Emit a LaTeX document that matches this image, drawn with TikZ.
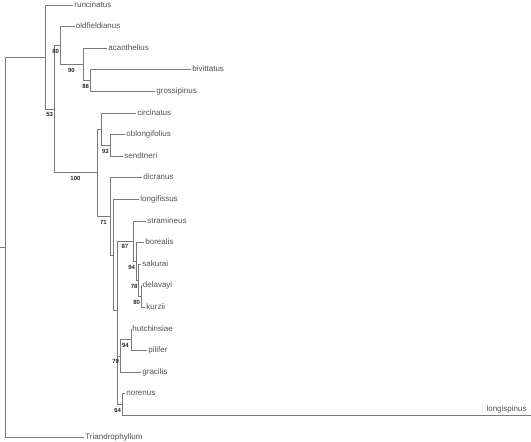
\documentclass[tikz,border=0pt]{standalone}
\usepackage{fontspec}
\setmainfont{Liberation Sans}
\usepackage{tikz}
\usepackage{xcolor}

\definecolor{branchgray}{HTML}{7A7A7A}
\definecolor{labelgray}{HTML}{505050}

\begin{document}
\begin{tikzpicture}[
    x=1pt, y=-1pt,
    branch/.style={draw=branchgray, line width=0.9pt},
    leaf/.style={anchor=west, inner sep=1.2pt, text height=5.8pt, text depth=1.6pt, text=labelgray, font=\fontsize{8}{9}\selectfont},
    boot/.style={inner sep=0.6pt, text=black!85, font=\bfseries\fontsize{6}{6}\selectfont}
]
    \useasboundingbox (0,0) rectangle (531,442);

    % internal nodes
    \coordinate (stub) at (0,247);
    \coordinate (root) at (5,247);
    \coordinate (ingroup) at (45,57.1);
    \coordinate (n53) at (54,109.2);
    \coordinate (n80a) at (60,45.5);
    \coordinate (n90) at (83,64.4);
    \coordinate (n88) at (90,80.6);
    \coordinate (n100) at (97,172.8);
    \coordinate (ncirc) at (101,129.2);
    \coordinate (n93) at (110,145.4);
    \coordinate (n71) at (110,216.4);
    \coordinate (nlongi) at (113,255.1);
    \coordinate (nrest) at (117,310.8);
    \coordinate (n87) at (133,241.25);
    \coordinate (n94a) at (136,261.5);
    \coordinate (n78) at (138.5,280.4);
    \coordinate (n80b) at (141,296.6);
    \coordinate (ngrac) at (117.8,380.3);
    \coordinate (n79) at (120,356);
    \coordinate (n94b) at (131,339.8);
    \coordinate (n64) at (122,404.6);
    \coordinate (longispinusEnd) at (531,415.4);

    % taxa
    \node[leaf] (runcinatus) at (73,5) {runcinatus};
    \node[leaf] (oldfieldianus) at (74.5,26.6) {oldfieldianus};
    \node[leaf] (acanthelius) at (107,48.2) {acanthelius};
    \node[leaf] (bivittatus) at (191,69.8) {bivittatus};
    \node[leaf] (grossipinus) at (155,91.4) {grossipinus};
    \node[leaf] (circinatus) at (136,113) {circinatus};
    \node[leaf] (oblongifolius) at (125,134.6) {oblongifolius};
    \node[leaf] (sendtneri) at (123,156.2) {sendtneri};
    \node[leaf] (dicranus) at (142,177.8) {dicranus};
    \node[leaf] (longifissus) at (139,199.4) {longifissus};
    \node[leaf] (stramineus) at (146,221) {stramineus};
    \node[leaf] (borealis) at (144,242.6) {borealis};
    \node[leaf] (sakurai) at (141,264.2) {sakurai};
    \node[leaf] (delavayi) at (141.5,285.8) {delavayi};
    \node[leaf] (kurzii) at (145,307.4) {kurzii};
    \node[leaf] (hutchinsiae) at (131,329) {hutchinsiae};
    \node[leaf] (pilifer) at (147,350.6) {pilifer};
    \node[leaf] (gracilis) at (141,372.2) {gracilis};
    \node[leaf] (norenus) at (125,393.8) {norenus};
    \node[leaf, anchor=south east] (longispinus) at (528,414) {longispinus};
    \node[leaf] (Triandrophyllum) at (84,437) {Triandrophyllum};

    % branches
    \draw[branch] (stub) -- (root);
    \draw[branch] (root) |- (ingroup);
    \draw[branch] (root) |- (Triandrophyllum.west);
    \draw[branch] (ingroup) |- (runcinatus.west);
    \draw[branch] (ingroup) |- (n53) node[boot, anchor=north east, yshift=-2.5pt] {53};
    \draw[branch] (n53) |- (n80a) node[boot, anchor=north east, yshift=-2.5pt] {80};
    \draw[branch] (n80a) |- (oldfieldianus.west);
    \draw[branch] (n80a) |- node[boot, pos=0.75, below=2.5pt] {90} (n90);
    \draw[branch] (n90) |- (acanthelius.west);
    \draw[branch] (n90) |- (n88) node[boot, anchor=north east, yshift=-2.5pt] {88};
    \draw[branch] (n88) |- (bivittatus.west);
    \draw[branch] (n88) |- (grossipinus.west);
    \draw[branch] (n53) |- node[boot, pos=0.75, below=2.5pt] {100} (n100);
    \draw[branch] (n100) |- (ncirc);
    \draw[branch] (ncirc) |- (circinatus.west);
    \draw[branch] (ncirc) |- node[boot, pos=0.75, below=2.5pt] {93} (n93);
    \draw[branch] (n93) |- (oblongifolius.west);
    \draw[branch] (n93) |- (sendtneri.west);
    \draw[branch] (n100) |- node[boot, pos=0.75, below=2.5pt] {71} (n71);
    \draw[branch] (n71) |- (dicranus.west);
    \draw[branch] (n71) |- (nlongi);
    \draw[branch] (nlongi) |- (longifissus.west);
    \draw[branch] (nlongi) |- (nrest);
    \draw[branch] (nrest) |- node[boot, pos=0.75, below=2.5pt] {87} (n87);
    \draw[branch] (n87) |- (stramineus.west);
    \draw[branch] (n87) |- (n94a) node[boot, anchor=north east, yshift=-2.5pt] {94};
    \draw[branch] (n94a) |- (borealis.west);
    \draw[branch] (n94a) |- (n78) node[boot, anchor=north east, yshift=-2.5pt] {78};
    \draw[branch] (n78) |- (sakurai.west);
    \draw[branch] (n78) |- (n80b) node[boot, anchor=north east, yshift=-2.5pt] {80};
    \draw[branch] (n80b) |- (delavayi.west);
    \draw[branch] (n80b) |- (kurzii.west);
    \draw[branch] (nrest) |- (ngrac);
    \draw[branch] (ngrac) |- (n79) node[boot, anchor=north east, yshift=-2.5pt] {79};
    \draw[branch] (n79) |- node[boot, pos=0.75, below=2.5pt] {94} (n94b);
    \draw[branch] (n94b) |- (hutchinsiae.west);
    \draw[branch] (n94b) |- (pilifer.west);
    \draw[branch] (n79) |- (gracilis.west);
    \draw[branch] (ngrac) |- (n64) node[boot, anchor=north east, yshift=-2.5pt] {64};
    \draw[branch] (n64) |- (norenus.west);
    \draw[branch] (n64) |- (longispinusEnd);
\end{tikzpicture}
\end{document}
